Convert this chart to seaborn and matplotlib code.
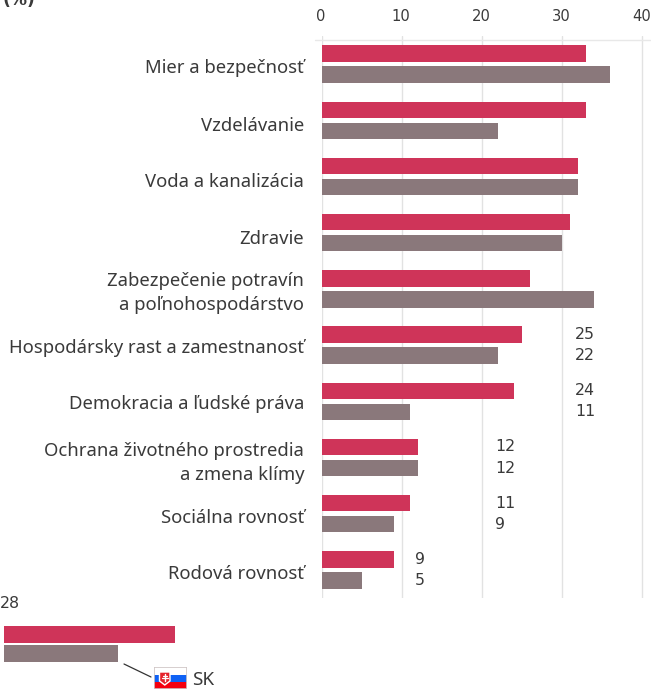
import math
import matplotlib
matplotlib.use("Agg")
import matplotlib.pyplot as plt
from matplotlib.lines import Line2D
from matplotlib.patches import Rectangle, Polygon
from matplotlib.transforms import ScaledTranslation
import pandas as pd
import seaborn as sns

categories = ["Mier a bezpečnosť", "Vzdelávanie", "Voda a kanalizácia", "Zdravie",
              "Zabezpečenie potravín\na poľnohospodárstvo",
              "Hospodársky rast a zamestnanosť", "Demokracia a ľudské práva",
              "Ochrana životného prostredia\na zmena klímy", "Sociálna rovnosť", "Rodová rovnosť"]
eu_values = [33, 33, 32, 31, 26, 25, 24, 12, 11, 9]
sk_values = [36, 22, 32, 30, 34, 22, 11, 12, 9, 5]
labelled_from = 5
legend_values = [21.4, 14.2]
series_names = ["EÚ", "SK"]
label_drops = [8.6, 10.4, 10.8, 11.3, 21.1, 7.6, 7.7, 22.5, 9.0, 9.1]
RED, GREY = "#CF3459", "#8A787B"
TXT = "#3A3A3A"

W, H = 651, 689
sns.set_theme(style="white", rc={"font.family": ["Noto Sans", "DejaVu Sans"]})
fig = plt.figure(figsize=(W / 100, H / 100), dpi=100)


def box(x0, y0, x1, y1):
    return [x0 / W, 1 - y1 / H, (x1 - x0) / W, (y1 - y0) / H]


ax = fig.add_axes(box(322, 36, 650, 598))
df = pd.DataFrame({
    "tema": categories * 2,
    "hodnota": eu_values + sk_values,
    "skupina": [series_names[0]] * 10 + [series_names[1]] * 10,
})
sns.barplot(data=df, y="tema", x="hodnota", hue="skupina", palette=[RED, GREY], ax=ax,
            width=0.747, gap=0.21, legend=False, saturation=1, linewidth=0, zorder=3)
ax.set_xlim(0, 328 / 8.01)
ax.set_ylim(9.5, -0.5)
ax.set(xlabel="", ylabel="")
ax.xaxis.tick_top()
ax.set_xticks([0, 10, 20, 30, 40])
ax.tick_params(axis="x", length=0, pad=8.5, labelsize=10.6, labelcolor=TXT)
shift = ScaledTranslation(-1 / 100, 0, fig.dpi_scale_trans)
for lab in ax.get_xticklabels():
    lab.set_family("DejaVu Sans")
    lab.set_transform(lab.get_transform() + shift)
ax.tick_params(axis="y", length=0, labelleft=False)
for s in ax.spines.values():
    s.set_visible(False)
ax.grid(axis="x", color="#E2E2E2", lw=1, zorder=0)
ax.grid(axis="y", visible=False)

for i, name in enumerate(categories):
    ax.annotate(name, xy=(0, i), xycoords=ax.get_yaxis_transform(),
                xytext=(-18 * 0.72, -label_drops[i] * 0.72), textcoords="offset points",
                ha="right", va="baseline", multialignment="right",
                fontsize=13.3, color=TXT, linespacing=1.42)

fig.add_artist(Line2D([315 / W, 650 / W], [1 - 40 / H] * 2, color="#E8E8E8", lw=1))

for i in range(labelled_from, len(categories)):
    lx = math.ceil(eu_values[i] / 10) * 10 + 1.6
    ax.text(lx, i - 0.19, str(eu_values[i]), va="center", ha="left", fontsize=11.3, color=TXT, family="DejaVu Sans")
    ax.text(lx, i + 0.19, str(sk_values[i]), va="center", ha="left", fontsize=11.3, color=TXT, family="DejaVu Sans")

fig.text(2 / W, 1 - 0 / H, "(%)", fontsize=12.4, fontweight="bold", family="DejaVu Sans", color=TXT, va="center", ha="left")
fig.text(0 / W, 1 - 603 / H, "28", fontsize=11.3, family="DejaVu Sans", color=TXT, va="center", ha="left")

lax = fig.add_axes(box(4, 625, 180, 663))
sns.barplot(y=series_names, x=legend_values, hue=series_names, palette=[RED, GREY], ax=lax,
            width=0.88, legend=False, saturation=1, linewidth=0)
lax.set_xlim(0, 176 / 8.01)
lax.axis("off")

fig.add_artist(Line2D([124 / W, 151 / W], [1 - 664 / H, 1 - 677 / H], color="#333333", lw=0.9))

fax = fig.add_axes(box(154, 667, 187, 689))
fax.set_xlim(0, 33)
fax.set_ylim(22, 0)
fax.axis("off")
fax.add_patch(Rectangle((0, 0), 33, 8, fc="white", ec="none"))
fax.add_patch(Rectangle((0, 8), 33, 7, fc="#0F62F5", ec="none"))
fax.add_patch(Rectangle((0, 15), 33, 7, fc="#F5000F", ec="none"))
fax.add_patch(Rectangle((0, 0), 33, 22, fc="none", ec="#CFC6C6", lw=1.2))
fax.add_patch(Polygon([(5.5, 5), (16, 5), (16, 14), (10.75, 18), (5.5, 14)], fc="#E5232B", ec="white", lw=1))
fax.plot([10.75, 10.75], [6.5, 14], color="white", lw=1)
fax.plot([8.7, 12.8], [8.5, 8.5], color="white", lw=0.9)
fax.plot([8, 13.5], [11, 11], color="white", lw=0.9)

fig.text(192 / W, 1 - 680 / H, series_names[1], fontsize=13.6, color=TXT, va="center", ha="left")

fig.savefig("out.png", dpi=100)
